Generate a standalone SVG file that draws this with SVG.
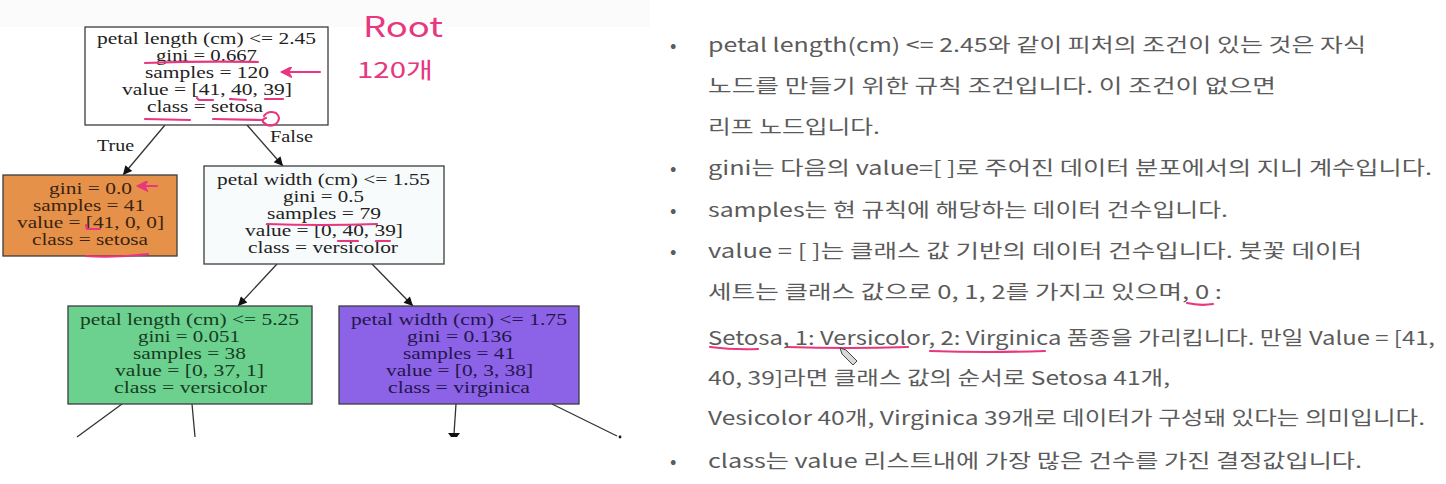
<svg xmlns="http://www.w3.org/2000/svg" width="1446" height="484" viewBox="0 0 1446 484">
<style>
.box{stroke:#3c3c3c;stroke-width:1.3}
.t{font-family:"Liberation Serif","Times New Roman",serif;font-size:17px;fill:#222}
.k{font-family:"Noto Sans CJK KR","Noto Sans",sans-serif;font-size:19px;fill:#5b5b5b}
.edge{stroke:#333;stroke-width:1.3;fill:none}
.pink{stroke:#E8367F;stroke-width:2.2;fill:none;stroke-linecap:round;stroke-linejoin:round}
.hw{font-family:"Noto Sans CJK KR","Noto Sans",sans-serif;fill:#E8367F}
</style>
<defs>
<marker id="arr" viewBox="0 0 10 10" refX="10" refY="5" markerWidth="11" markerHeight="9" markerUnits="userSpaceOnUse" orient="auto">
<path d="M0,0 L10,5 L0,10 z" fill="#111"/>
</marker>
<marker id="parr" viewBox="0 0 10 10" refX="9" refY="5" markerWidth="12" markerHeight="11" markerUnits="userSpaceOnUse" orient="auto">
<path d="M0,0 L10,5 L0,10 L3,5 z" fill="#E8367F" stroke="#E8367F" stroke-width="1" stroke-linejoin="round"/>
</marker>
</defs>
<rect width="1446" height="484" fill="#fff"/>
<rect x="0" y="0" width="650" height="27" fill="#fbfbfb"/>

<g id="connectors">
<line class="edge" x1="165" y1="125" x2="123" y2="175" marker-end="url(#arr)"/>
<line class="edge" x1="247" y1="125" x2="283" y2="166" marker-end="url(#arr)"/>
<line class="edge" x1="277" y1="264" x2="238" y2="306" marker-end="url(#arr)"/>
<line class="edge" x1="372" y1="264" x2="413" y2="306" marker-end="url(#arr)"/>
<line class="edge" x1="122" y1="404" x2="77" y2="437"/>
<line class="edge" x1="192" y1="404" x2="195" y2="437"/>
<line class="edge" x1="456" y1="404" x2="454" y2="434"/>
<polygon points="448,433 460,433 457,437 451,437" fill="#111"/>
<line class="edge" x1="552" y1="404" x2="617" y2="436"/>
<circle cx="620" cy="437" r="1.4" fill="#111"/>
<text class="t" x="97" y="151" textLength="37" lengthAdjust="spacingAndGlyphs">True</text>
<text class="t" x="270" y="142" textLength="43" lengthAdjust="spacingAndGlyphs">False</text>
</g>

<g id="node-root">
<rect class="box" x="85" y="27" width="243" height="98" fill="#ffffff"/>
<text class="t" x="97" y="44" textLength="219" lengthAdjust="spacingAndGlyphs">petal length (cm) &lt;= 2.45</text>
<text class="t" x="156" y="61" textLength="101" lengthAdjust="spacingAndGlyphs">gini = 0.667</text>
<text class="t" x="145" y="78" textLength="124" lengthAdjust="spacingAndGlyphs">samples = 120</text>
<text class="t" x="122" y="95" textLength="170" lengthAdjust="spacingAndGlyphs">value = [41, 40, 39]</text>
<text class="t" x="147" y="112" textLength="116" lengthAdjust="spacingAndGlyphs">class = setosa</text>
</g>

<g id="node-setosa">
<rect class="box" x="3" y="175" width="174" height="81" fill="#E6914A"/>
<text class="t" x="49" y="194" textLength="83" lengthAdjust="spacingAndGlyphs" style="fill:#3a2410">gini = 0.0</text>
<text class="t" x="33" y="211" textLength="112" lengthAdjust="spacingAndGlyphs" style="fill:#3a2410">samples = 41</text>
<text class="t" x="17" y="228" textLength="147" lengthAdjust="spacingAndGlyphs" style="fill:#3a2410">value = [41, 0, 0]</text>
<text class="t" x="32" y="245" textLength="116" lengthAdjust="spacingAndGlyphs" style="fill:#3a2410">class = setosa</text>
</g>

<g id="node-split2">
<rect class="box" x="204" y="166" width="240" height="98" fill="#F8FBFC"/>
<text class="t" x="217" y="185" textLength="213" lengthAdjust="spacingAndGlyphs">petal width (cm) &lt;= 1.55</text>
<text class="t" x="283" y="202" textLength="81" lengthAdjust="spacingAndGlyphs">gini = 0.5</text>
<text class="t" x="267" y="219" textLength="114" lengthAdjust="spacingAndGlyphs">samples = 79</text>
<text class="t" x="245" y="236" textLength="158" lengthAdjust="spacingAndGlyphs">value = [0, 40, 39]</text>
<text class="t" x="248" y="253" textLength="150" lengthAdjust="spacingAndGlyphs">class = versicolor</text>
</g>

<g id="node-versicolor">
<rect class="box" x="68" y="306" width="244" height="98" fill="#6CD18F"/>
<text class="t" x="80" y="325" textLength="219" lengthAdjust="spacingAndGlyphs" style="fill:#173b22">petal length (cm) &lt;= 5.25</text>
<text class="t" x="138" y="342" textLength="102" lengthAdjust="spacingAndGlyphs" style="fill:#173b22">gini = 0.051</text>
<text class="t" x="133" y="359" textLength="113" lengthAdjust="spacingAndGlyphs" style="fill:#173b22">samples = 38</text>
<text class="t" x="115" y="376" textLength="149" lengthAdjust="spacingAndGlyphs" style="fill:#173b22">value = [0, 37, 1]</text>
<text class="t" x="114" y="393" textLength="153" lengthAdjust="spacingAndGlyphs" style="fill:#173b22">class = versicolor</text>
</g>

<g id="node-virginica">
<rect class="box" x="339" y="306" width="240" height="98" fill="#8C62E6"/>
<text class="t" x="351" y="325" textLength="216" lengthAdjust="spacingAndGlyphs" style="fill:#24164d">petal width (cm) &lt;= 1.75</text>
<text class="t" x="407" y="342" textLength="105" lengthAdjust="spacingAndGlyphs" style="fill:#24164d">gini = 0.136</text>
<text class="t" x="403" y="359" textLength="112" lengthAdjust="spacingAndGlyphs" style="fill:#24164d">samples = 41</text>
<text class="t" x="386" y="376" textLength="147" lengthAdjust="spacingAndGlyphs" style="fill:#24164d">value = [0, 3, 38]</text>
<text class="t" x="388" y="393" textLength="142" lengthAdjust="spacingAndGlyphs" style="fill:#24164d">class = virginica</text>
</g>

<g id="annotations">
<text class="hw" x="363" y="37" font-size="28" textLength="80" lengthAdjust="spacingAndGlyphs">Root</text>
<text class="hw" x="357" y="78" font-size="22" textLength="76" lengthAdjust="spacingAndGlyphs">120개</text>
<line class="pink" x1="320" y1="72" x2="282" y2="72" marker-end="url(#parr)"/>
<line class="pink" x1="157" y1="186" x2="138" y2="186" marker-end="url(#parr)"/>
<path class="pink" d="M145,63 Q200,61 258,62"/>
<path class="pink" d="M197,98 L199,100 L213,100"/>
<path class="pink" d="M230,99 L246,100"/>
<path class="pink" d="M265,99 L283,99"/>
<path class="pink" d="M145,119 L190,120"/>
<path class="pink" d="M213,119 L262,120"/>
<path class="pink" d="M264,116 Q268,110 276,113 Q282,118 276,124 Q269,128 263,122 Q262,119 266,118"/>
<path class="pink" d="M86,225 L87,229 L100,229"/>
<path class="pink" d="M86,256 Q115,258 148,254"/>
<path class="pink" d="M267,224 Q320,226 377,224"/>
<path class="pink" d="M338,241 L358,241"/>
<path class="pink" d="M376,241 L390,241"/>
<path class="pink" d="M1187,303 Q1200,306 1213,304"/>
<path class="pink" d="M710,347 Q734,350 758,349"/>
<path class="pink" d="M787,347 Q848,349 908,347"/>
<path class="pink" d="M930,351 Q988,353 1045,351"/>
<path d="M840,348 L846,350 L857,361 L853,365 L842,354 Z" fill="#d8d8d8" stroke="#444" stroke-width="1"/>
</g>

<g id="text-panel">
<text class="k" x="670" y="52">•</text>
<text class="k" x="708" y="52" textLength="658" lengthAdjust="spacingAndGlyphs">petal length(cm) &lt;= 2.45와 같이 피처의 조건이 있는 것은 자식</text>
<text class="k" x="708" y="93" textLength="568" lengthAdjust="spacingAndGlyphs">노드를 만들기 위한 규칙 조건입니다. 이 조건이 없으면</text>
<text class="k" x="708" y="134" textLength="172" lengthAdjust="spacingAndGlyphs">리프 노드입니다.</text>
<text class="k" x="670" y="175">•</text>
<text class="k" x="708" y="175" textLength="724" lengthAdjust="spacingAndGlyphs">gini는 다음의 value=[ ]로 주어진 데이터 분포에서의 지니 계수입니다.</text>
<text class="k" x="670" y="217">•</text>
<text class="k" x="708" y="217" textLength="520" lengthAdjust="spacingAndGlyphs">samples는 현 규칙에 해당하는 데이터 건수입니다.</text>
<text class="k" x="670" y="258">•</text>
<text class="k" x="708" y="258" textLength="654" lengthAdjust="spacingAndGlyphs">value = [ ]는 클래스 값 기반의 데이터 건수입니다. 붓꽃 데이터</text>
<text class="k" x="708" y="299" textLength="514" lengthAdjust="spacingAndGlyphs">세트는 클래스 값으로 0, 1, 2를 가지고 있으며, 0 :</text>
<text class="k" x="708" y="345" textLength="727" lengthAdjust="spacingAndGlyphs">Setosa, 1: Versicolor, 2: Virginica 품종을 가리킵니다. 만일 Value = [41,</text>
<text class="k" x="708" y="385" textLength="462" lengthAdjust="spacingAndGlyphs">40, 39]라면 클래스 값의 순서로 Setosa 41개,</text>
<text class="k" x="708" y="425" textLength="717" lengthAdjust="spacingAndGlyphs">Vesicolor 40개, Virginica 39개로 데이터가 구성돼 있다는 의미입니다.</text>
<text class="k" x="670" y="468">•</text>
<text class="k" x="708" y="468" textLength="654" lengthAdjust="spacingAndGlyphs">class는 value 리스트내에 가장 많은 건수를 가진 결정값입니다.</text>
</g>
</svg>
